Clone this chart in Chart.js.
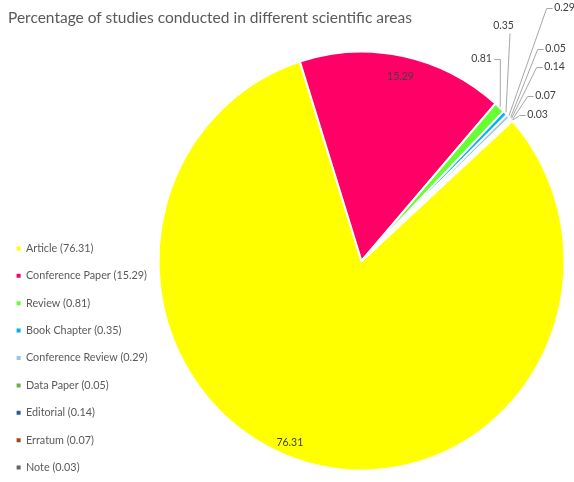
<!DOCTYPE html>
<html>
<head>
<meta charset="utf-8">
<script src="https://cdn.jsdelivr.net/npm/chart.js@4/dist/chart.umd.min.js"></script>
<style>
  html, body { margin: 0; padding: 0; background: #ffffff; }
  #wrap { position: relative; width: 574px; height: 482px; }
  #title {
    position: absolute; left: 8px; top: 8px;
    font-family: Lato, "Open Sans", sans-serif; font-size: 15.5px;
    color: #595959; white-space: nowrap;
  }
</style>
</head>
<body>
<div id="wrap">
  <canvas id="chart" width="574" height="482"></canvas>
  <div id="title">Percentage of studies conducted in different scientific areas</div>
</div>
<script>
// Document types and their share of the studies (%)
const categories = ['Article', 'Conference Paper', 'Review', 'Book Chapter', 'Conference Review',
                    'Data Paper', 'Editorial', 'Erratum', 'Note'];
const shares = [76.31, 15.29, 0.81, 0.35, 0.29, 0.05, 0.14, 0.07, 0.03];
const sliceColors = ['#FFFF00', '#FF0066', '#66FF33', '#00B0F0', '#9DC3E6',
                     '#70AD47', '#255E91', '#9E480E', '#636363'];

// Draws the pie slightly taller than wide, then adds value labels:
// large slices get the value just inside the rim, thin slices get an
// outside callout joined by a leader line.
const sliceLabels = {
  id: 'sliceLabels',
  beforeDatasetsDraw(chart, args, opts) {
    const arc = chart.getDatasetMeta(0).data[0];
    const ctx = chart.ctx;
    ctx.save();
    ctx.translate(arc.x, arc.y);
    ctx.scale(1, opts.stretchY);
    ctx.translate(-arc.x, -arc.y);
  },
  afterDatasetsDraw(chart, args, opts) {
    const ctx = chart.ctx;
    ctx.restore();
    const meta = chart.getDatasetMeta(0);
    const values = chart.data.datasets[0].data;
    const sy = opts.stretchY;
    ctx.save();
    ctx.font = opts.font;
    ctx.fillStyle = opts.color;
    ctx.strokeStyle = opts.lineColor;
    ctx.lineWidth = 1;
    ctx.textAlign = 'center';
    ctx.textBaseline = 'middle';
    meta.data.forEach((arc, i) => {
      const p = arc.getProps(['x', 'y', 'startAngle', 'endAngle', 'outerRadius'], true);
      const mid = (p.startAngle + p.endAngle) / 2;
      const text = values[i].toFixed(2);
      const c = opts.callouts[i];
      if (c.inside) {
        const a = mid + (c.turn || 0) * Math.PI / 180;
        const r = p.outerRadius - c.inset;
        ctx.fillText(text, p.x + Math.cos(a) * r, p.y + Math.sin(a) * r * sy);
        return;
      }
      const lx = p.x + c.dx, ly = p.y + c.dy;
      const w = ctx.measureText(text).width;
      ctx.fillText(text, lx, ly);
      const ax = p.x + Math.cos(mid) * (p.outerRadius + 1);
      const ay = p.y + Math.sin(mid) * (p.outerRadius + 1) * sy;
      let tx, ty, ex, ey;
      if (c.side === 'left') { tx = lx - w / 2 - 2; ty = ly; ex = tx - 6; ey = ly; }
      else if (c.side === 'right') { tx = lx + w / 2 + 2; ty = ly; ex = tx + 6; ey = ly; }
      else { tx = lx + (c.shift || 0); ty = ly + 7; ex = tx; ey = ty; }
      ctx.beginPath();
      ctx.moveTo(tx + 0.5, ty + 0.5);
      ctx.lineTo(ex + 0.5, ey + 0.5);
      ctx.lineTo(ax, ay);
      ctx.stroke();
    });
    ctx.restore();
  }
};

new Chart(document.getElementById('chart'), {
  type: 'pie',
  data: {
    labels: categories,
    datasets: [{
      data: shares,
      backgroundColor: sliceColors,
      borderColor: '#ffffff',
      borderWidth: 2
    }]
  },
  plugins: [sliceLabels],
  options: {
    responsive: false,
    animation: false,
    events: [],
    rotation: 48,
    radius: 203,
    layout: { padding: { top: 40, bottom: -7.6, left: 0, right: 0 } },
    plugins: {
      title: { display: false },
      tooltip: { enabled: false },
      legend: {
        position: 'left',
        align: 'end',
        maxWidth: 149,
        labels: {
          boxWidth: 4,
          boxHeight: 4,
          padding: 16.6,
          color: '#595959',
          font: { family: 'Lato, "Open Sans", sans-serif', size: 10.8 },
          generateLabels(chart) {
            const ds = chart.data.datasets[0];
            return chart.data.labels.map((label, i) => ({
              text: label + ' (' + ds.data[i].toFixed(2) + ')',
              fillStyle: ds.backgroundColor[i],
              strokeStyle: ds.backgroundColor[i],
              lineWidth: 0,
              fontColor: '#595959',
              hidden: false,
              index: i
            }));
          }
        }
      },
      sliceLabels: {
        font: '10.5px Lato, "Open Sans", sans-serif',
        color: '#404040',
        lineColor: '#A6A6A6',
        stretchY: 1.032,
        callouts: [
          { inside: true, turn: 7, inset: 13 },
          { inside: true, turn: 0.5, inset: 20 },
          { dx: 120, dy: -202, side: 'right' },
          { dx: 142, dy: -235, side: 'below', shift: 6 },
          { dx: 203, dy: -253, side: 'left' },
          { dx: 194, dy: -212, side: 'left' },
          { dx: 193, dy: -194, side: 'left' },
          { dx: 184, dy: -165, side: 'left' },
          { dx: 176, dy: -146, side: 'left' }
        ]
      }
    }
  }
});
</script>
</body>
</html>
